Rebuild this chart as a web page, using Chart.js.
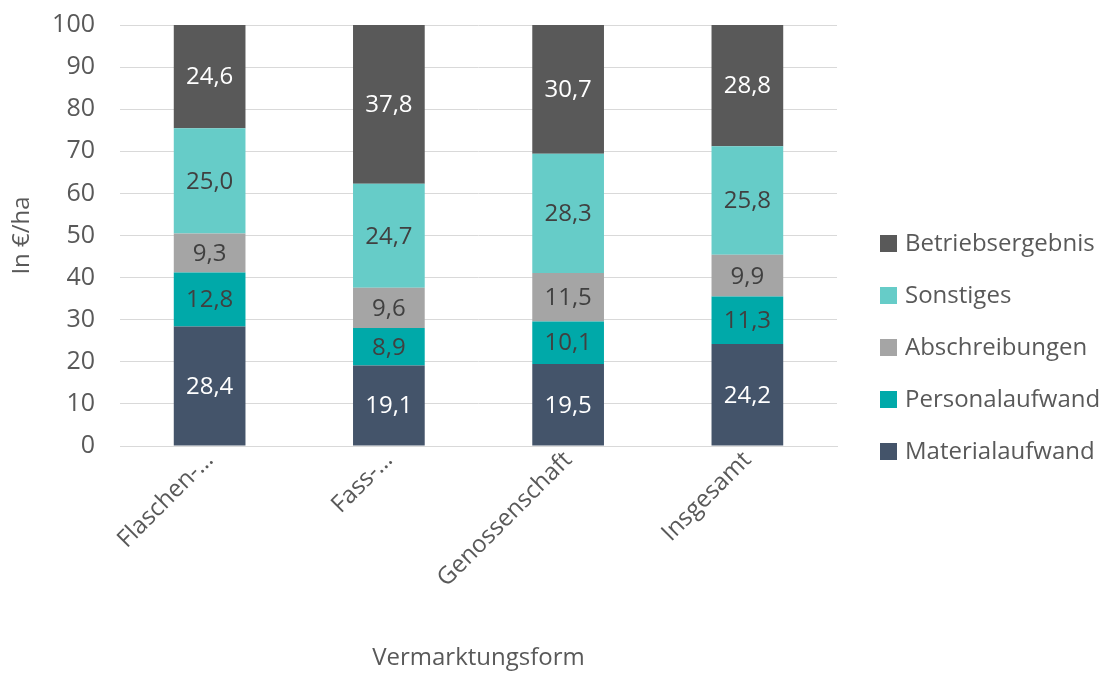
<!DOCTYPE html>
<html>
<head>
<meta charset="utf-8">
<script src="https://cdn.jsdelivr.net/npm/chart.js@4/dist/chart.umd.min.js"></script>
<style>
  html, body { margin: 0; padding: 0; background: #fff; }
  #wrap { width: 1114px; height: 673px; }
</style>
</head>
<body>
<div id="wrap"><canvas id="myChart"></canvas></div>
<script>
// data
var categories = ['Flaschen-…', 'Fass-…', 'Genossenschaft', 'Insgesamt'];
var materialaufwand = [28.4, 19.1, 19.5, 24.2];
var personalaufwand = [12.8, 8.9, 10.1, 11.3];
var abschreibungen = [9.3, 9.6, 11.5, 9.9];
var sonstiges = [25.0, 24.7, 28.3, 25.8];
var betriebsergebnis = [24.6, 37.8, 30.7, 28.8];
var yTicks = [0, 10, 20, 30, 40, 50, 60, 70, 80, 90, 100];

var fontFam = "'Open Sans', Lato, sans-serif";
var fs = 24;

// draws the value inside each bar segment
var barLabels = {
    id: 'barLabels',
    afterDatasetsDraw: function (chart) {
        var ctx = chart.ctx;
        ctx.save();
        ctx.font = fs + 'px ' + fontFam;
        ctx.textAlign = 'center';
        ctx.textBaseline = 'middle';
        chart.data.datasets.forEach(function (ds, i) {
            var meta = chart.getDatasetMeta(i);
            meta.data.forEach(function (bar, j) {
                var mid = (bar.y + bar.base) / 2;
                ctx.fillStyle = ds.labelColor;
                ctx.fillText(ds.data[j].toFixed(1).replace('.', ','), bar.x, mid + 1);
            });
        });
        ctx.restore();
    }
};

// legend on the right, top item = last dataset (like Excel)
var sideLegend = {
    id: 'sideLegend',
    afterDraw: function (chart) {
        var ctx = chart.ctx;
        var sets = chart.data.datasets.slice().reverse();
        var step = 52;
        var y0 = chart.height / 2 + 11 - (sets.length - 1) * step / 2;
        var x0 = chart.chartArea.right + 43;
        ctx.save();
        ctx.font = fs + 'px ' + fontFam;
        ctx.textBaseline = 'middle';
        sets.forEach(function (ds, i) {
            var y = y0 + i * step;
            ctx.fillStyle = ds.backgroundColor;
            ctx.fillRect(x0, y - 8.5, 17, 17);
            ctx.fillStyle = '#595959';
            ctx.fillText(ds.label, x0 + 25, y + 1);
        });
        ctx.restore();
    }
};

var ctx1 = document.getElementById('myChart').getContext('2d');
var chart = new Chart(ctx1, {
    type: 'bar',
    data: {
        labels: categories,
        datasets: [
            { label: 'Materialaufwand', data: materialaufwand, backgroundColor: '#44546a', labelColor: '#ffffff' },
            { label: 'Personalaufwand', data: personalaufwand, backgroundColor: '#00a9a9', labelColor: '#404040' },
            { label: 'Abschreibungen', data: abschreibungen, backgroundColor: '#a5a5a5', labelColor: '#404040' },
            { label: 'Sonstiges', data: sonstiges, backgroundColor: '#66ccc8', labelColor: '#404040' },
            { label: 'Betriebsergebnis', data: betriebsergebnis, backgroundColor: '#595959', labelColor: '#ffffff' }
        ]
    },
    options: {
        responsive: true,
        maintainAspectRatio: false,
        animation: false,
        layout: { padding: { top: 25, right: 277, left: 0, bottom: 0 } },
        datasets: {
            bar: { barPercentage: 0.4, categoryPercentage: 1.0 }
        },
        scales: {
            x: {
                stacked: true,
                afterFit: function (axis) {
                    axis.height = 227;
                    axis.paddingLeft = 0;
                    axis.paddingRight = 0;
                },
                grid: { display: false, drawTicks: false },
                border: { color: '#d9d9d9' },
                ticks: {
                    color: '#595959',
                    font: { size: fs, family: fontFam },
                    minRotation: 45,
                    maxRotation: 45,
                    padding: 0
                },
                title: {
                    display: true,
                    text: 'Vermarktungsform',
                    color: '#595959',
                    font: { size: fs, family: fontFam },
                    padding: { top: 30, bottom: 0 }
                }
            },
            y: {
                stacked: true,
                min: 0,
                max: 100,
                afterBuildTicks: function (axis) {
                    axis.ticks = yTicks.map(function (v) { return { value: v }; });
                },
                afterFit: function (axis) {
                    axis.width = 120;
                    axis.paddingTop = 0;
                    axis.paddingBottom = 0;
                },
                grid: { color: '#d9d9d9', drawTicks: false },
                border: { display: false },
                ticks: {
                    color: '#595959',
                    font: { size: 25, family: fontFam },
                    padding: 25
                },
                title: {
                    display: true,
                    text: 'In €/ha',
                    color: '#595959',
                    font: { size: fs, family: fontFam },
                    padding: { top: 8, bottom: 0 }
                }
            }
        },
        plugins: {
            legend: { display: false },
            tooltip: { enabled: false }
        }
    },
    plugins: [barLabels, sideLegend]
});
</script>
</body>
</html>
